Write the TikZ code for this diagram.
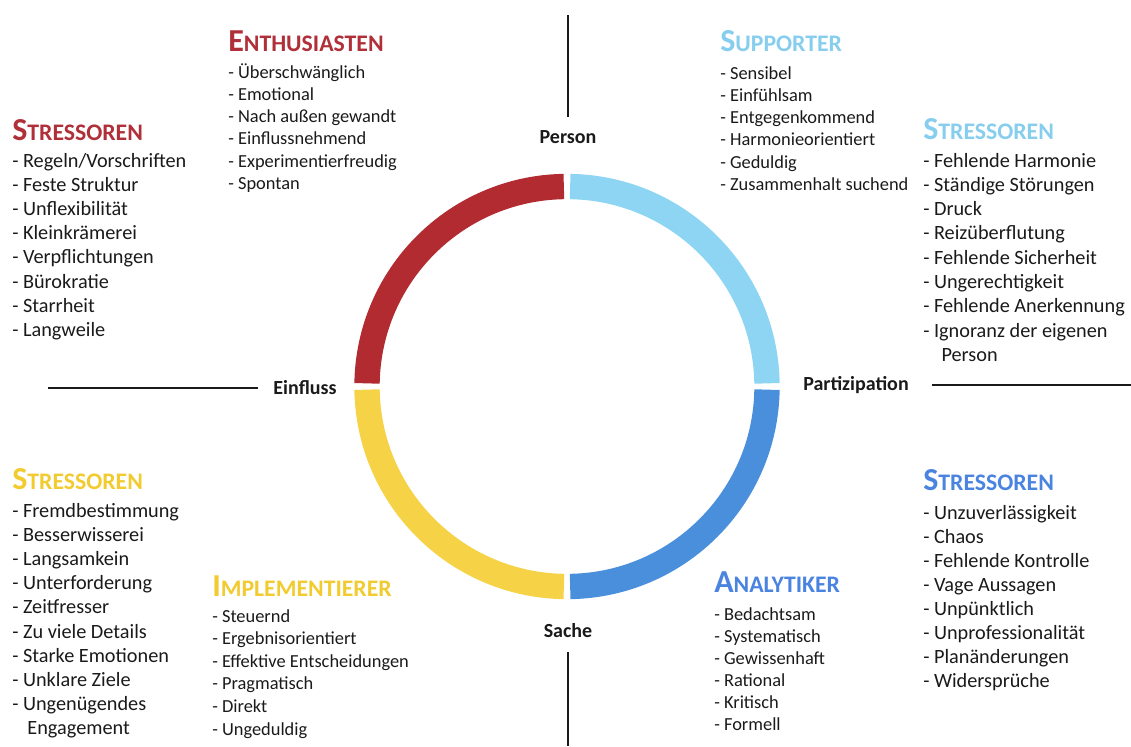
\documentclass[tikz,border=0pt]{standalone}
\usepackage{fontspec}
\setmainfont{Carlito}
\definecolor{ringred}{HTML}{B12B31}
\definecolor{ringlight}{HTML}{8DD5F2}
\definecolor{ringyellow}{HTML}{F5D246}
\definecolor{ringblue}{HTML}{4A8FDB}
\definecolor{ttlred}{HTML}{B0303A}
\definecolor{ttllight}{HTML}{86CDEE}
\definecolor{ttlyellow}{HTML}{F2CB30}
\definecolor{ttlblue}{HTML}{4A84E0}
\definecolor{ink}{HTML}{1A1A1A}

% Title in faked small caps: large initial, smaller capitals after it
\newcommand\smcaptitle[2]{{\fontsize{24}{25}\selectfont #1}{\fontsize{17.8}{19}\selectfont #2}}

% One list of items, one node per line
% #1 name prefix, #2 x, #3 first baseline, #4 line step, #5 style, #6 items
\newcommand\itemcolumn[6]{%
  \foreach \txt [count=\i from 0] in {#6}{%
    \node[#5, anchor=base west] (#1-\i) at (#2, {#3 + \i*#4}) {\txt};
  }%
}

\begin{document}
\begin{tikzpicture}[x=0.75pt, y=-0.75pt,
  bigitem/.style={inner sep=0pt, text=ink, font=\fontsize{15.2}{18}\selectfont},
  smallitem/.style={inner sep=0pt, text=ink, font=\fontsize{13.8}{16}\selectfont},
  heading/.style={inner sep=0pt, anchor=base west, font=\bfseries},
  axislabel/.style={inner sep=0pt, text=ink, font=\bfseries\fontsize{15}{17}\selectfont},
  axisline/.style={line width=2.2pt, draw=ink},
  segment/.style={line width=19pt}
]
\useasboundingbox (0,0) rectangle (1131,746);

% ---- the ring of four segments ----
\coordinate (c) at (567,386.5);
\def\rad{150pt}
\def\gap{0.9}
\draw[segment, ringlight] (c) ++(\gap:\rad) arc[start angle=\gap, end angle=90-\gap, radius=\rad];
\draw[segment, ringred] (c) ++(90+\gap:\rad) arc[start angle=90+\gap, end angle=180-\gap, radius=\rad];
\draw[segment, ringyellow] (c) ++(180+\gap:\rad) arc[start angle=180+\gap, end angle=270-\gap, radius=\rad];
\draw[segment, ringblue] (c) ++(270+\gap:\rad) arc[start angle=270+\gap, end angle=360-\gap, radius=\rad];

% ---- axes ----
\node[axislabel] (person) at (568,137) {Person};
\node[axislabel] (sache) at (568,631) {Sache};
\node[axislabel] (einfluss) at (305,388) {Einfluss};
\node[axislabel] (partizipation) at (856,385) {Partizipation};
\coordinate (topend) at (568,15);
\coordinate (topfoot) at (568,117);
\coordinate (botend) at (568,746);
\coordinate (bothead) at (568,652);
\coordinate (leftend) at (48,388);
\coordinate (lefthead) at (258,388);
\coordinate (rightend) at (1131,385);
\coordinate (righthead) at (932,385);
\draw[axisline] (topend) -- (topfoot);
\draw[axisline] (bothead) -- (botend);
\draw[axisline] (leftend) -- (lefthead);
\draw[axisline] (righthead) -- (rightend);

% ---- Enthusiasten (red) ----
\node[heading, text=ttlred] (enth) at (228,51) {\smcaptitle{E}{NTHUSIASTEN}};
\itemcolumn{enth}{228}{78}{22.3}{smallitem}{- Überschwänglich, - Emotional, - Nach außen gewandt, - Einflussnehmend, - Experimentierfreudig, - Spontan}

\node[heading, text=ttlred] (strred) at (12,140) {\smcaptitle{S}{TRESSOREN}};
\itemcolumn{sred}{12}{167}{24.2}{bigitem}{- Regeln/Vorschriften, - Feste Struktur, - Unflexibilität, - Kleinkrämerei, - Verpflichtungen, - Bürokratie, - Starrheit, - Langweile}

% ---- Supporter (light blue) ----
\node[heading, text=ttllight] (supp) at (720,51) {\smcaptitle{S}{UPPORTER}};
\itemcolumn{supp}{720}{79}{22.3}{smallitem}{- Sensibel, - Einfühlsam, - Entgegenkommend, - Harmonieorientiert, - Geduldig, - Zusammenhalt suchend}

\node[heading, text=ttllight] (strlight) at (923,139) {\smcaptitle{S}{TRESSOREN}};
\itemcolumn{slight}{923}{167}{24.3}{bigitem}{- Fehlende Harmonie, - Ständige Störungen, - Druck, - Reizüberflutung, - Fehlende Sicherheit, - Ungerechtigkeit, - Fehlende Anerkennung, - Ignoranz der eigenen, \hspace*{0.9em}Person}

% ---- Implementierer (yellow) ----
\node[heading, text=ttlyellow] (stryellow) at (12,489) {\smcaptitle{S}{TRESSOREN}};
\itemcolumn{syellow}{12}{517}{24.2}{bigitem}{- Fremdbestimmung, - Besserwisserei, - Langsamkein, - Unterforderung, - Zeitfresser, - Zu viele Details, - Starke Emotionen, - Unklare Ziele, - Ungenügendes, \hspace*{0.75em}Engagement}

\node[heading, text=ttlyellow] (impl) at (212,596) {\smcaptitle{I}{MPLEMENTIERER}};
\itemcolumn{impl}{212}{622}{22.6}{smallitem}{- Steuernd, - Ergebnisorientiert, - Effektive Entscheidungen, - Pragmatisch, - Direkt, - Ungeduldig}

% ---- Analytiker (blue) ----
\node[heading, text=ttlblue] (anal) at (714,592) {\smcaptitle{A}{NALYTIKER}};
\itemcolumn{anal}{714}{620}{22}{smallitem}{- Bedachtsam, - Systematisch, - Gewissenhaft, - Rational, - Kritisch, - Formell}

\node[heading, text=ttlblue] (strblue) at (923,490) {\smcaptitle{S}{TRESSOREN}};
\itemcolumn{sblue}{923}{519}{24.1}{bigitem}{- Unzuverlässigkeit, - Chaos, - Fehlende Kontrolle, - Vage Aussagen, - Unpünktlich, - Unprofessionalität, - Planänderungen, - Widersprüche}
\end{tikzpicture}
\end{document}
